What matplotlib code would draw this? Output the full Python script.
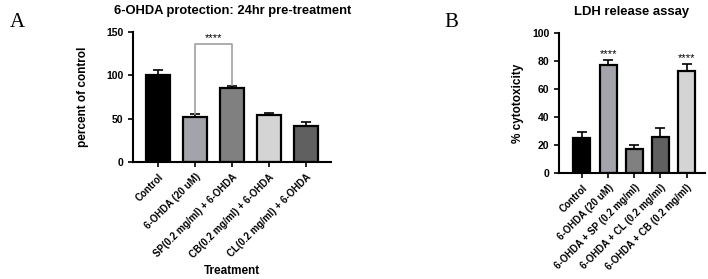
import numpy as np
import matplotlib.pyplot as plt

plt.rcParams['font.family'] = ['Liberation Sans', 'DejaVu Sans']

# Panel A data
a_labels = ['Control', '6-OHDA (20 uM)', 'SP(0.2 mg/ml) + 6-OHDA',
            'CB(0.2 mg/ml) + 6-OHDA', 'CL(0.2 mg/ml) + 6-OHDA']
a_values = [100, 52, 86, 54, 42]
a_errors = [6, 3, 1.5, 3, 4]
a_colors = ['#000000', '#a3a3ab', '#808080', '#d4d4d4', '#606060']

# Panel B data
b_labels = ['Control', '6-OHDA (20 uM)', '6-OHDA + SP (0.2 mg/ml)',
            '6-OHDA + CL (0.2 mg/ml)', '6-OHDA + CB (0.2 mg/ml)']
b_values = [25, 77, 17, 26, 73]
b_errors = [4, 4, 3, 6, 5]
b_colors = ['#000000', '#a3a3ab', '#808080', '#606060', '#d4d4d4']
b_stars = ['', '****', '', '', '****']

fig = plt.figure(figsize=(7.08, 2.79), dpi=100)
axA = fig.add_axes([0.188, 0.419, 0.280, 0.466])
axB = fig.add_axes([0.7895, 0.380, 0.206, 0.502])


def draw(ax, labels, values, errors, colors):
    x = np.arange(len(values))
    ax.bar(x, values, width=0.65, color=colors, edgecolor='black', linewidth=1.6, zorder=2)
    ax.errorbar(x, values, yerr=[np.zeros(len(errors)), errors], fmt='none',
                ecolor='black', elinewidth=1.2, capsize=3.5, capthick=1.2, zorder=1)
    for s in ['top', 'right']:
        ax.spines[s].set_visible(False)
    for s in ['left', 'bottom']:
        ax.spines[s].set_linewidth(1.5)
    ax.tick_params(width=1.2, length=3.5, labelsize=7.5)
    ax.set_xticks(x)
    ax.set_xticklabels(labels, rotation=45, ha='right', rotation_mode='anchor',
                       fontweight='bold', fontsize=7)
    return x


xa = draw(axA, a_labels, a_values, a_errors, a_colors)
axA.set_xlim(-0.68, 4.7)
axA.set_ylim(0, 150)
axA.set_yticks([0, 50, 100, 150])
for t in axA.get_yticklabels():
    t.set_fontweight('bold')
axA.set_ylabel('percent of control', fontsize=8.5, fontweight='bold', labelpad=12)
axA.set_xlabel('Treatment', fontsize=8.5, fontweight='bold')
axA.set_title('6-OHDA protection: 24hr pre-treatment', fontsize=9.3,
              fontweight='bold', pad=13)
# significance bracket between 6-OHDA and SP
axA.plot([xa[1], xa[1], xa[2], xa[2]],
         [a_values[1] + a_errors[1] + 1, 136, 136, a_values[2] + a_errors[2] + 1.5],
         color='#a0a0a0', lw=1.2, clip_on=False)
axA.text((xa[1] + xa[2]) / 2, 137, '****', ha='center', va='bottom', fontsize=8)

xb = draw(axB, b_labels, b_values, b_errors, b_colors)
axB.set_xlim(-0.88, 4.7)
axB.set_ylim(0, 100)
axB.set_yticks([0, 20, 40, 60, 80, 100])
for t in axB.get_yticklabels():
    t.set_fontweight('bold')
axB.set_ylabel('% cytotoxicity', fontsize=8.5, fontweight='bold', labelpad=6)
axB.set_title('LDH release assay', fontsize=9.4, fontweight='bold', pad=13)
for xi, v, e, s in zip(xb, b_values, b_errors, b_stars):
    if s:
        axB.text(xi, v + e + 0.3, s, ha='center', va='bottom', fontsize=8)

fig.text(0.014, 0.955, 'A', fontsize=15, family='Liberation Serif', va='top')
fig.text(0.627, 0.955, 'B', fontsize=15, family='Liberation Serif', va='top')

fig.savefig('out.png', dpi=100)
